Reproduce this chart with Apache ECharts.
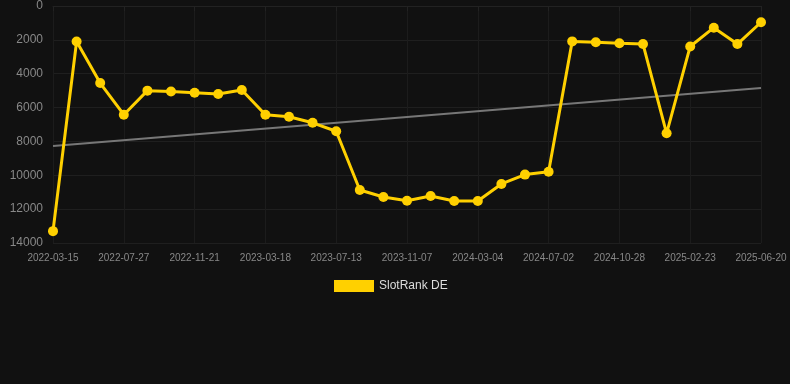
<!DOCTYPE html>
<html>
<head>
<meta charset="utf-8">
<script src="https://cdn.jsdelivr.net/npm/echarts@6/dist/echarts.min.js"></script>
<style>
html,body{margin:0;padding:0;background:#111111;}
#chart{width:790px;height:384px;}
</style>
</head>
<body>
<div id="chart"></div>
<script>
var categories = ['2022-03-15','2022-04-29','2022-06-12','2022-07-27','2022-09-05','2022-10-13','2022-11-21','2022-12-30','2023-02-07','2023-03-18','2023-04-26','2023-06-04','2023-07-13','2023-08-21','2023-09-29','2023-11-07','2023-12-16','2024-01-25','2024-03-04','2024-04-12','2024-05-24','2024-07-02','2024-08-10','2024-09-19','2024-10-28','2024-12-06','2025-01-15','2025-02-23','2025-04-03','2025-05-12','2025-06-20'];
var rankValues = [13300,2100,4550,6420,5000,5050,5120,5200,4960,6420,6540,6900,7400,10870,11280,11500,11220,11520,11520,10510,9960,9790,2090,2140,2200,2250,7520,2390,1280,2250,960];
var trendStart = 8270;
var trendEnd = 4850;
var yTicks = [0,2000,4000,6000,8000,10000,12000,14000];

var trendValues = categories.map(function(c,i){ return i===0 ? trendStart : (i===categories.length-1 ? trendEnd : null); });

var chart = echarts.init(document.getElementById('chart'));
chart.setOption({
  backgroundColor:'#111111',
  animation:false,
  grid:{left:53,right:29,top:6,bottom:141},
  legend:{
    data:['SlotRank DE'],
    top:275,
    left:329,
    icon:'rect',
    itemWidth:40,
    itemHeight:12,
    textStyle:{color:'#dddddd',fontSize:12}
  },
  xAxis:{
    type:'category',
    data:categories,
    boundaryGap:false,
    axisLine:{show:true,lineStyle:{color:'#222222'}},
    axisTick:{show:true,interval:2,lineStyle:{color:'#222222'}},
    axisLabel:{interval:2,color:'#888888',fontSize:10,margin:10},
    splitLine:{show:true,interval:2,lineStyle:{color:'#1c1c1c'}}
  },
  yAxis:{
    type:'value',
    inverse:true,
    min:yTicks[0],
    max:yTicks[yTicks.length-1],
    interval:2000,
    axisLine:{show:false},
    axisTick:{show:false},
    axisLabel:{color:'#888888',fontSize:12,margin:10,formatter:function(v){return String(v);}},
    splitLine:{show:true,lineStyle:{color:'#1f1f1f'}}
  },
  series:[
    {
      name:'SlotRank DE',
      type:'line',
      data:rankValues,
      symbol:'circle',
      symbolSize:10,
      lineStyle:{color:'#FFD000',width:3},
      itemStyle:{color:'#FFD000'},
      z:3
    },
    {
      name:'trend',
      type:'line',
      data:trendValues,
      connectNulls:true,
      symbol:'none',
      lineStyle:{color:'#777777',width:2},
      itemStyle:{color:'#777777'},
      z:2
    }
  ]
});
</script>
</body>
</html>
